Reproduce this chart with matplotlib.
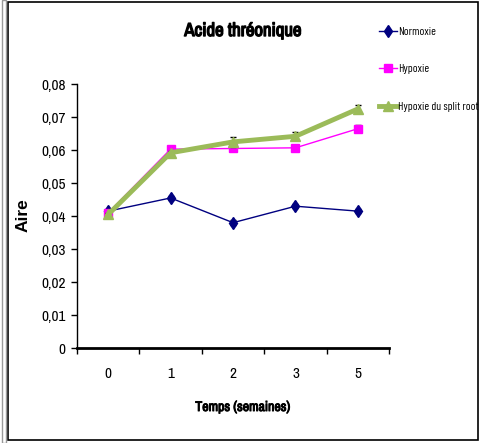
import matplotlib
matplotlib.use("Agg")
import matplotlib.pyplot as plt
import matplotlib.patheffects as pe
from matplotlib.patches import Rectangle
from matplotlib.ticker import FuncFormatter, FixedLocator

plt.rcParams["font.family"] = ["Archivo Narrow", "DejaVu Sans"]

semaines = ["0", "1", "2", "3", "5"]
normoxie = [0.0415, 0.0455, 0.038, 0.043, 0.0415]
normoxie_err = [0.0005, 0.0006, 0.0008, 0.0006, 0.0006]
hypoxie = [0.041, 0.0603, 0.0605, 0.0607, 0.0665]
hypoxie_err = [0.0005, 0.0005, 0.0006, 0.0005, 0.001]
split_root = [0.0405, 0.0592, 0.0625, 0.0642, 0.0725]
split_err = [0.0004, 0.0006, 0.0015, 0.0012, 0.0012]

series = [
    ("Normoxie", normoxie, normoxie_err, "#000080", "d", 6.5, 1.0),
    ("Hypoxie", hypoxie, hypoxie_err, "#FF00FF", "s", 6, 1.0),
    ("Hypoxie du split root", split_root, split_err, "#9BBB59", "^", 7, 3.5),
]

# faux gras : la police étroite n'a qu'une graisse
def gras(lw):
    return [pe.withStroke(linewidth=lw, foreground="black")]

fig = plt.figure(figsize=(4.81, 4.43), dpi=100)
ax = fig.add_axes([0.160, 0.2144, 0.649, 0.5956])

x = list(range(len(semaines)))
for i, (nom, y, err, coul, mk, ms, lw) in enumerate(series):
    ax.errorbar(x, y, yerr=err, fmt="none", ecolor="black", elinewidth=0.8,
                capsize=2, zorder=3 + i)
    ax.plot(x, y, color=coul, marker=mk, markersize=ms, linewidth=lw,
            label=nom, zorder=3 + i)

ax.set_xlim(-0.5, len(semaines) - 0.5)
ax.set_ylim(0, 0.08)
ax.set_yticks([i / 100 for i in range(9)])
ax.yaxis.set_major_formatter(FuncFormatter(
    lambda v, p: "0" if v == 0 else f"{v:.2f}".replace(".", ",")))
ax.set_xticks(x)
ax.set_xticklabels(semaines)
ax.xaxis.set_minor_locator(FixedLocator([i - 0.5 for i in range(len(semaines) + 1)]))
ax.tick_params(axis="x", which="major", length=0, pad=14, labelsize=11)
ax.tick_params(axis="x", which="minor", length=4, width=1, direction="out")
ax.tick_params(axis="y", length=4, width=1, direction="out", labelsize=11, pad=4)

for s in ["top", "right"]:
    ax.spines[s].set_visible(False)
ax.spines["bottom"].set_linewidth(2)
ax.spines["left"].set_linewidth(1)

fig.text(0.505, 1 - 407 / 443, "Temps (semaines)", fontsize=10, ha="center",
         va="center", path_effects=gras(0.7))
fig.text(23 / 481, 1 - 215 / 443, "Aire", fontsize=12.5, fontweight="bold",
         family="Liberation Sans", rotation=90, ha="center", va="center")
fig.text(243 / 481, 1 - 31 / 443, "Acide thréonique", fontsize=13.5,
         ha="center", va="center", path_effects=gras(1))

fig.legend(loc="upper left", bbox_to_anchor=(0.778, 0.949), frameon=False,
           prop={"family": ["Barlow Condensed", "DejaVu Sans"], "size": 8.3},
           handlelength=1.6, handletextpad=0.05, labelspacing=2.35,
           borderaxespad=0)

fig.patches.append(Rectangle((0.017, 0.006), 0.977, 0.99, transform=fig.transFigure,
                             fill=False, edgecolor="black", linewidth=1.2))
fig.patches.append(Rectangle((0.004, 0.0), 0.009, 1.0, transform=fig.transFigure,
                             fill=False, edgecolor="#999999", linewidth=1))

fig.savefig("out.png", dpi=100)
